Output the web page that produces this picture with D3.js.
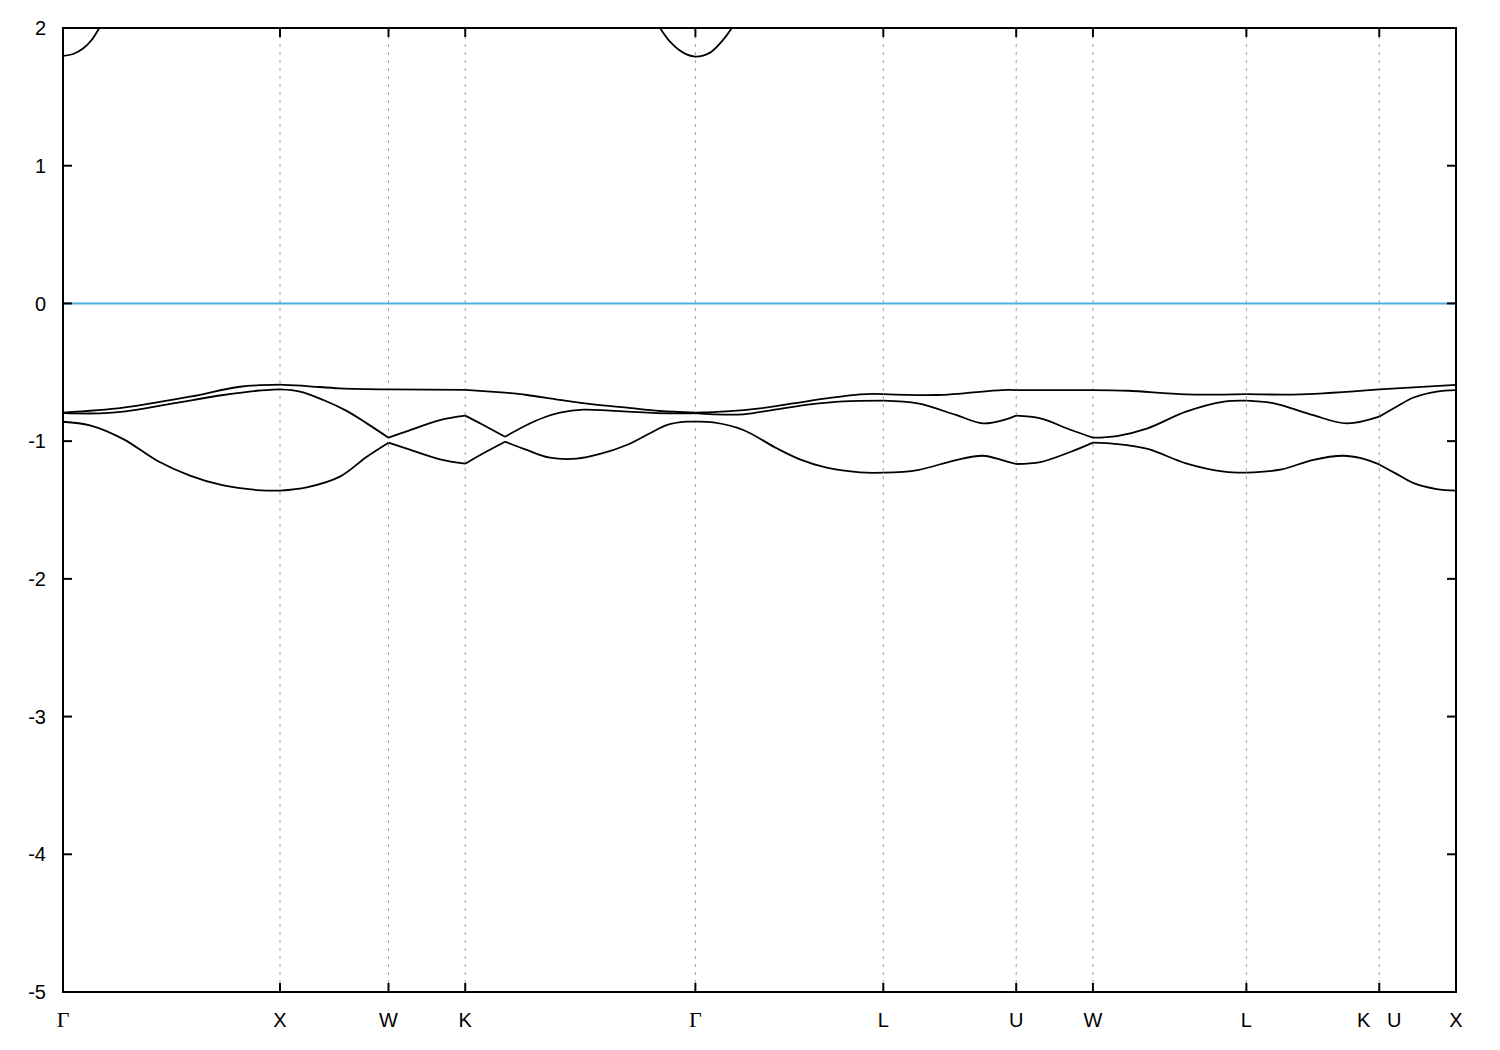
<!DOCTYPE html>
<html>
<head>
<meta charset="utf-8">
<script src="https://cdn.jsdelivr.net/npm/d3@7"></script>
<style>
  html, body { margin: 0; padding: 0; background: #fff; }
  svg { display: block; }
</style>
</head>
<body>
<svg id="chart" width="1500" height="1050"></svg>
<script>
// ---- data ----
const kTicks = [0, 1, 1.5, 1.8536, 2.9142, 3.7802, 4.3926, 4.7462, 5.4533, 6.0657, 6.4193];
const kLabels = ["Γ", "X", "W", "K", "Γ", "L", "U", "W", "L", "K   U", "X"];
const yTickValues = [2, 1, 0, -1, -2, -3, -4, -5];
const kinkPoints = [2.037];   // crossing point inside K–Γ
const fermiLevel = 0;

const band1 = [[0,-0.859],[0.124,-0.885],[0.278,-0.985],[0.432,-1.140],[0.585,-1.250],[0.739,-1.322],[0.893,-1.355],[1.0,-1.360],[1.123,-1.336],[1.276,-1.258],[1.4,-1.113],[1.5,-1.011],
  [1.58,-1.052],[1.737,-1.132],[1.8536,-1.164],[1.937,-1.088],[2.037,-1.004],[2.137,-1.064],[2.244,-1.120],[2.367,-1.127],[2.475,-1.093],[2.598,-1.028],[2.705,-0.943],[2.782,-0.883],[2.874,-0.859],[2.9142,-0.859],
  [2.997,-0.864],[3.135,-0.919],[3.289,-1.052],[3.396,-1.132],[3.519,-1.193],[3.673,-1.227],[3.7802,-1.229],[3.939,-1.210],[4.115,-1.137],[4.239,-1.106],[4.327,-1.137],[4.3926,-1.166],
  [4.504,-1.152],[4.645,-1.077],[4.7462,-1.011],[4.857,-1.021],[4.998,-1.057],[5.175,-1.161],[5.351,-1.222],[5.4533,-1.229],[5.616,-1.205],[5.757,-1.137],[5.899,-1.106],[5.986,-1.125],[6.0657,-1.169],
  [6.143,-1.236],[6.224,-1.305],[6.33,-1.348],[6.4193,-1.360]];

const band2 = [[0,-0.797],[0.171,-0.798],[0.278,-0.786],[0.508,-0.726],[0.739,-0.665],[0.893,-0.634],[1.0,-0.624],[1.092,-0.640],[1.2,-0.701],[1.307,-0.780],[1.4,-0.871],[1.5,-0.975],
  [1.58,-0.931],[1.737,-0.847],[1.8536,-0.815],[1.937,-0.883],[2.037,-0.968],[2.137,-0.883],[2.213,-0.830],[2.29,-0.793],[2.398,-0.771],[2.521,-0.779],[2.674,-0.791],[2.828,-0.799],[2.9142,-0.796],
  [2.997,-0.805],[3.135,-0.805],[3.289,-0.769],[3.442,-0.733],[3.596,-0.711],[3.7802,-0.706],[3.939,-0.726],[4.115,-0.810],[4.239,-0.871],[4.345,-0.842],[4.3926,-0.815],
  [4.504,-0.835],[4.645,-0.919],[4.7462,-0.975],[4.857,-0.963],[4.998,-0.907],[5.175,-0.786],[5.351,-0.713],[5.4533,-0.706],[5.581,-0.726],[5.757,-0.810],[5.916,-0.871],[6.0657,-0.822],
  [6.143,-0.752],[6.224,-0.683],[6.33,-0.640],[6.4193,-0.629]];

const band3 = [[0,-0.793],[0.278,-0.757],[0.585,-0.677],[0.816,-0.605],[1.0,-0.590],[1.123,-0.600],[1.276,-0.617],[1.5,-0.624],
  [1.8536,-0.627],[2.037,-0.648],[2.137,-0.665],[2.29,-0.701],[2.444,-0.733],[2.598,-0.757],[2.751,-0.781],[2.9142,-0.793],
  [3.058,-0.784],[3.212,-0.762],[3.365,-0.726],[3.519,-0.690],[3.673,-0.660],[3.7802,-0.658],[4.027,-0.665],[4.327,-0.629],[4.3926,-0.629],
  [4.7462,-0.629],[4.909,-0.634],[5.175,-0.660],[5.4533,-0.658],[5.704,-0.660],[6.0657,-0.624],[6.4193,-0.592]];

const conductionA = [[0,1.797],[0.047,1.811],[0.094,1.853],[0.132,1.913],[0.167,1.998],[0.2,2.08]];
const conductionB = [[2.72,2.08],[2.751,2.0],[2.797,1.901],[2.858,1.821],[2.9142,1.792],[2.982,1.821],[3.035,1.901],[3.082,2.0],[3.11,2.08]];

// ---- layout ----
const svg = d3.select("#chart");
const mLeft = 63, mRight = 1456, mTop = 28, mBottom = 992;
const x = d3.scaleLinear().domain([kTicks[0], kTicks[kTicks.length - 1]]).range([mLeft, mRight]);
const y = d3.scaleLinear().domain([-5, 2]).range([mBottom, mTop]);

const font = "'Liberation Sans', Arial, Helvetica, sans-serif";

svg.append("defs").append("clipPath").attr("id", "plotClip")
  .append("rect").attr("x", mLeft).attr("y", mTop).attr("width", mRight - mLeft).attr("height", mBottom - mTop);

// grid lines
svg.append("g").selectAll("line").data(kTicks).join("line")
  .attr("x1", d => x(d)).attr("x2", d => x(d))
  .attr("y1", mTop).attr("y2", mBottom)
  .attr("stroke", "#a0a0a0").attr("stroke-width", 1)
  .attr("stroke-dasharray", "3,5");

// fermi level
svg.append("line")
  .attr("x1", mLeft).attr("x2", mRight)
  .attr("y1", y(fermiLevel)).attr("y2", y(fermiLevel))
  .attr("stroke", "#4aaee6").attr("stroke-width", 2);

// bands
const breaks = kTicks.concat(kinkPoints).sort((a, b) => a - b);
function splitSegments(band) {
  const segs = [];
  for (let i = 0; i < breaks.length - 1; i++) {
    const a = breaks[i], b = breaks[i + 1];
    const s = band.filter(p => p[0] >= a - 1e-6 && p[0] <= b + 1e-6);
    if (s.length > 1) segs.push(s);
  }
  return segs;
}
const line = d3.line().x(d => x(d[0])).y(d => y(d[1])).curve(d3.curveCatmullRom.alpha(0.5));
const gBands = svg.append("g").attr("clip-path", "url(#plotClip)");
[band1, band2, band3].forEach(band => {
  splitSegments(band).forEach(seg => {
    gBands.append("path").attr("d", line(seg))
      .attr("fill", "none").attr("stroke", "#000").attr("stroke-width", 1.8)
      .attr("stroke-linejoin", "round");
  });
});
[conductionA, conductionB].forEach(seg => {
  gBands.append("path").attr("d", line(seg))
    .attr("fill", "none").attr("stroke", "#000").attr("stroke-width", 1.8);
});

// frame
svg.append("rect").attr("x", mLeft).attr("y", mTop).attr("width", mRight - mLeft).attr("height", mBottom - mTop)
  .attr("fill", "none").attr("stroke", "#000").attr("stroke-width", 2);

// y ticks (left and right, inward)
const tickLen = 9;
const gy = svg.append("g");
yTickValues.forEach(v => {
  gy.append("line").attr("x1", mLeft).attr("x2", mLeft + tickLen).attr("y1", y(v)).attr("y2", y(v))
    .attr("stroke", "#000").attr("stroke-width", 2);
  gy.append("line").attr("x1", mRight).attr("x2", mRight - tickLen).attr("y1", y(v)).attr("y2", y(v))
    .attr("stroke", "#000").attr("stroke-width", 2);
  gy.append("text").attr("x", mLeft - 17).attr("y", y(v)).attr("dy", "0.36em")
    .attr("text-anchor", "end").attr("font-family", font).attr("font-size", 20)
    .attr("fill", "#000").text(String(v));
});

// x ticks (bottom and top, inward)
const gx = svg.append("g");
kTicks.forEach((k, i) => {
  gx.append("line").attr("x1", x(k)).attr("x2", x(k)).attr("y1", mBottom).attr("y2", mBottom - tickLen)
    .attr("stroke", "#000").attr("stroke-width", 2);
  gx.append("line").attr("x1", x(k)).attr("x2", x(k)).attr("y1", mTop).attr("y2", mTop + tickLen)
    .attr("stroke", "#000").attr("stroke-width", 2);
  const isGamma = kLabels[i] === "Γ";
  gx.append("text").attr("x", x(k)).attr("y", 1027)
    .attr("text-anchor", "middle")
    .attr("font-family", isGamma ? "'Liberation Serif', 'DejaVu Serif', serif" : font)
    .attr("font-size", isGamma ? 22 : 20)
    .style("white-space", "pre")
    .attr("fill", "#000").text(kLabels[i]);
});
</script>
</body>
</html>
